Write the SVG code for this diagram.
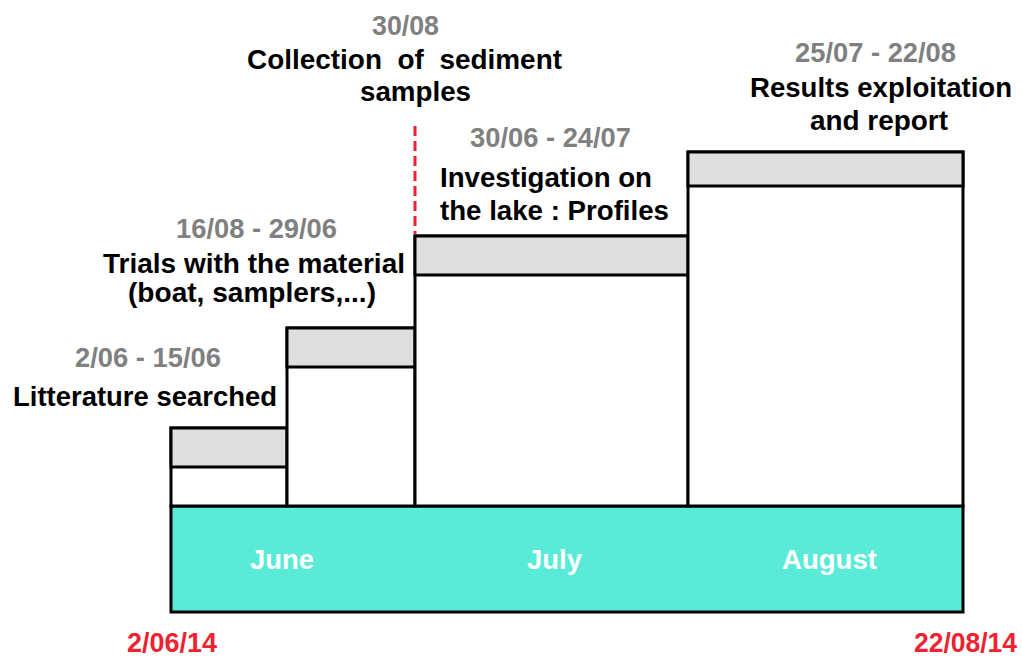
<svg xmlns="http://www.w3.org/2000/svg" width="1022" height="657" viewBox="0 0 1022 657">
<style>
text{font-family:"Liberation Sans",Arial,sans-serif;font-weight:bold;font-size:27px;white-space:pre}
.d{fill:#808080}
.t{fill:#000}
.m{fill:#fff}
.r{fill:#ee2230;font-size:28px}
.box{fill:#fff;stroke:#000;stroke-width:3}
.band{fill:#dedede;stroke:#000;stroke-width:3}
</style>
<rect width="1022" height="657" fill="#fff"/>
<g id="timeline">
<rect x="171" y="506" width="792" height="106" fill="#5aead8" stroke="#000" stroke-width="3"/>
<text class="m" x="250" y="569" textLength="64" lengthAdjust="spacingAndGlyphs">June</text>
<text class="m" x="527" y="569" textLength="55" lengthAdjust="spacingAndGlyphs">July</text>
<text class="m" x="782" y="569" textLength="95" lengthAdjust="spacingAndGlyphs">August</text>
</g>
<g id="task1">
<rect class="box" x="171" y="428" width="116" height="78"/>
<rect class="band" x="171" y="428" width="116" height="39"/>
<text class="d" x="75" y="367" textLength="146" lengthAdjust="spacingAndGlyphs">2/06 - 15/06</text>
<text class="t" x="13" y="406" textLength="264" lengthAdjust="spacingAndGlyphs">Litterature searched</text>
</g>
<g id="task2">
<rect class="box" x="287" y="328" width="128" height="178"/>
<rect class="band" x="287" y="328" width="128" height="39"/>
<text class="d" x="176" y="238" textLength="161" lengthAdjust="spacingAndGlyphs">16/08 - 29/06</text>
<text class="t" x="103" y="273" textLength="302" lengthAdjust="spacingAndGlyphs">Trials with the material</text>
<text class="t" x="128" y="302" textLength="248" lengthAdjust="spacingAndGlyphs">(boat, samplers,...)</text>
</g>
<g id="task3">
<rect class="box" x="415" y="236" width="273" height="270"/>
<rect class="band" x="415" y="236" width="273" height="39"/>
<text class="d" x="470" y="147" textLength="161" lengthAdjust="spacingAndGlyphs">30/06 - 24/07</text>
<text class="t" x="440" y="187" textLength="212" lengthAdjust="spacingAndGlyphs">Investigation on</text>
<text class="t" x="440" y="220" textLength="229" lengthAdjust="spacingAndGlyphs">the lake : Profiles</text>
</g>
<g id="task4">
<rect class="box" x="688" y="152" width="275" height="354"/>
<rect class="band" x="688" y="152" width="275" height="34"/>
<text class="d" x="795" y="62" textLength="161" lengthAdjust="spacingAndGlyphs">25/07 - 22/08</text>
<text class="t" x="750" y="97" textLength="262" lengthAdjust="spacingAndGlyphs">Results exploitation</text>
<text class="t" x="810" y="130" textLength="138" lengthAdjust="spacingAndGlyphs">and report</text>
</g>
<g id="milestone">
<text class="d" x="372" y="35" textLength="67" lengthAdjust="spacingAndGlyphs">30/08</text>
<text class="t" x="247" y="69" textLength="315" lengthAdjust="spacingAndGlyphs" xml:space="preserve">Collection  of  sediment</text>
<text class="t" x="360" y="101" textLength="111" lengthAdjust="spacingAndGlyphs">samples</text>
</g>
<g id="connectors">
<line x1="415" y1="126" x2="415" y2="234" stroke="#ee2230" stroke-width="3" stroke-dasharray="10,5"/>
</g>
<g id="dates">
<text class="r" x="127" y="652" textLength="90" lengthAdjust="spacingAndGlyphs">2/06/14</text>
<text class="r" x="914" y="652" textLength="103" lengthAdjust="spacingAndGlyphs">22/08/14</text>
</g>
</svg>
